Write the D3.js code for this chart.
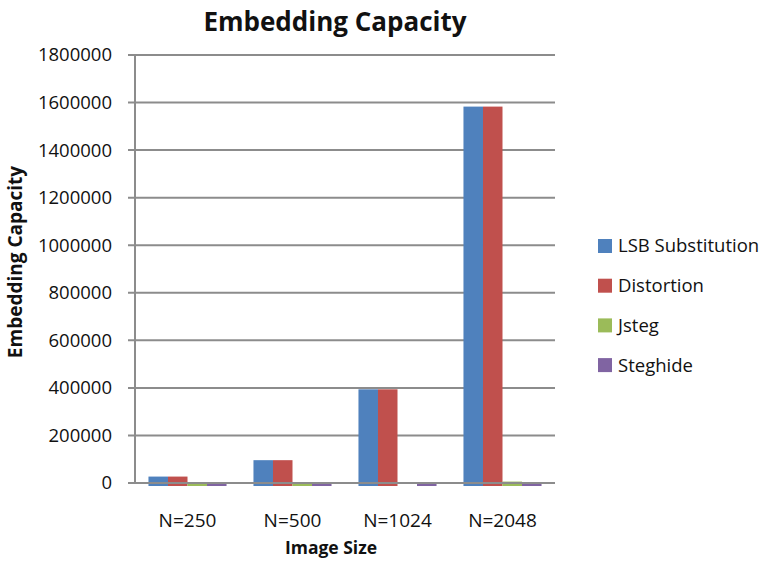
<!DOCTYPE html>
<html><head><meta charset="utf-8">
<script src="https://cdn.jsdelivr.net/npm/d3@7"></script>
<style>body{margin:0;background:#fff}svg{display:block}text{font-family:"Open Sans",sans-serif;fill:#111}</style>
</head><body>
<script>
const categories = ["N=250", "N=500", "N=1024", "N=2048"];
const seriesNames = ["LSB Substitution", "Distortion", "Jsteg", "Steghide"];
const lsb = [27000, 96000, 394000, 1583000];
const distortion = [27000, 96000, 394000, 1583000];
const jsteg = [1000, 1000, 0, 6000];
const steghide = [1000, 1000, 1000, 1000];
const yTicks = [0, 200000, 400000, 600000, 800000, 1000000, 1200000, 1400000, 1600000, 1800000];
const colors = ["#4F81BD", "#C0504D", "#9BBB59", "#8064A2"];

const seriesValues = [lsb, distortion, jsteg, steghide];
const W = 766, H = 561;
const svg = d3.select("body").append("svg").attr("width", W).attr("height", H);
const L = 135, R = 555, T = 55, B = 483;

const y = d3.scaleLinear().domain([0, 1800000]).range([B, T]);
const x0 = d3.scaleBand().domain(categories).range([L, R]).padding(0);
const x1 = d3.scaleBand().domain(seriesNames).range([0, x0.bandwidth()]).paddingInner(0).paddingOuter(0.69);

// gridlines
svg.append("g").selectAll("line").data(yTicks).join("line")
  .attr("x1", L - 7).attr("x2", R).attr("y1", d => y(d)).attr("y2", d => y(d))
  .attr("stroke", "#8c8c8c").attr("stroke-width", 2);

// bars
const groups = svg.append("g").selectAll("g").data(categories).join("g")
  .attr("transform", c => `translate(${x0(c)},0)`);
groups.selectAll("rect").data((c, i) => seriesNames.map((s, k) => ({s, k, v: seriesValues[k][i]})).filter(d => d.v > 0))
  .join("rect")
  .attr("x", d => x1(d.s))
  .attr("width", x1.bandwidth())
  .attr("y", d => y(d.v))
  .attr("height", d => Math.max(0, y(0) - y(d.v)) + 3)
  .attr("fill", d => colors[d.k]);

// axis line (vertical) and baseline
svg.append("line").attr("x1", L).attr("x2", L).attr("y1", T).attr("y2", B)
  .attr("stroke", "#8c8c8c").attr("stroke-width", 2);
svg.append("line").attr("x1", L - 7).attr("x2", R).attr("y1", B).attr("y2", B)
  .attr("stroke", "#8c8c8c").attr("stroke-width", 2);

// y tick labels
svg.append("g").selectAll("text").data(yTicks).join("text")
  .attr("x", 112).attr("y", d => y(d)).attr("dy", "0.35em")
  .attr("text-anchor", "end").attr("font-size", 18.5).text(d => d3.format("d")(d));

// x labels
svg.append("g").selectAll("text").data(categories).join("text")
  .attr("x", c => x0(c) + x0.bandwidth() / 2).attr("y", 527)
  .attr("text-anchor", "middle").attr("font-size", 19).text(c => c);

// titles
svg.append("text").attr("x", 335).attr("y", 31).attr("text-anchor", "middle")
  .attr("font-size", 26).attr("font-weight", "bold").text("Embedding Capacity");
svg.append("text").attr("x", 331).attr("y", 554).attr("text-anchor", "middle")
  .attr("font-size", 17.5).attr("font-weight", "bold").text("Image Size");
svg.append("text").attr("transform", "translate(22,262) rotate(-90)").attr("text-anchor", "middle")
  .attr("font-size", 19).attr("font-weight", "bold").text("Embedding Capacity");

// legend
const lg = svg.append("g").selectAll("g").data(seriesNames).join("g")
  .attr("transform", (d, i) => `translate(598,${246 + i * 39.7})`);
lg.append("rect").attr("x", 0).attr("y", -7).attr("width", 14).attr("height", 14)
  .attr("fill", (d, i) => colors[i]);
lg.append("text").attr("x", 20).attr("y", 0).attr("dy", "0.35em").attr("font-size", 18.5).text(d => d);
</script>
</body></html>
